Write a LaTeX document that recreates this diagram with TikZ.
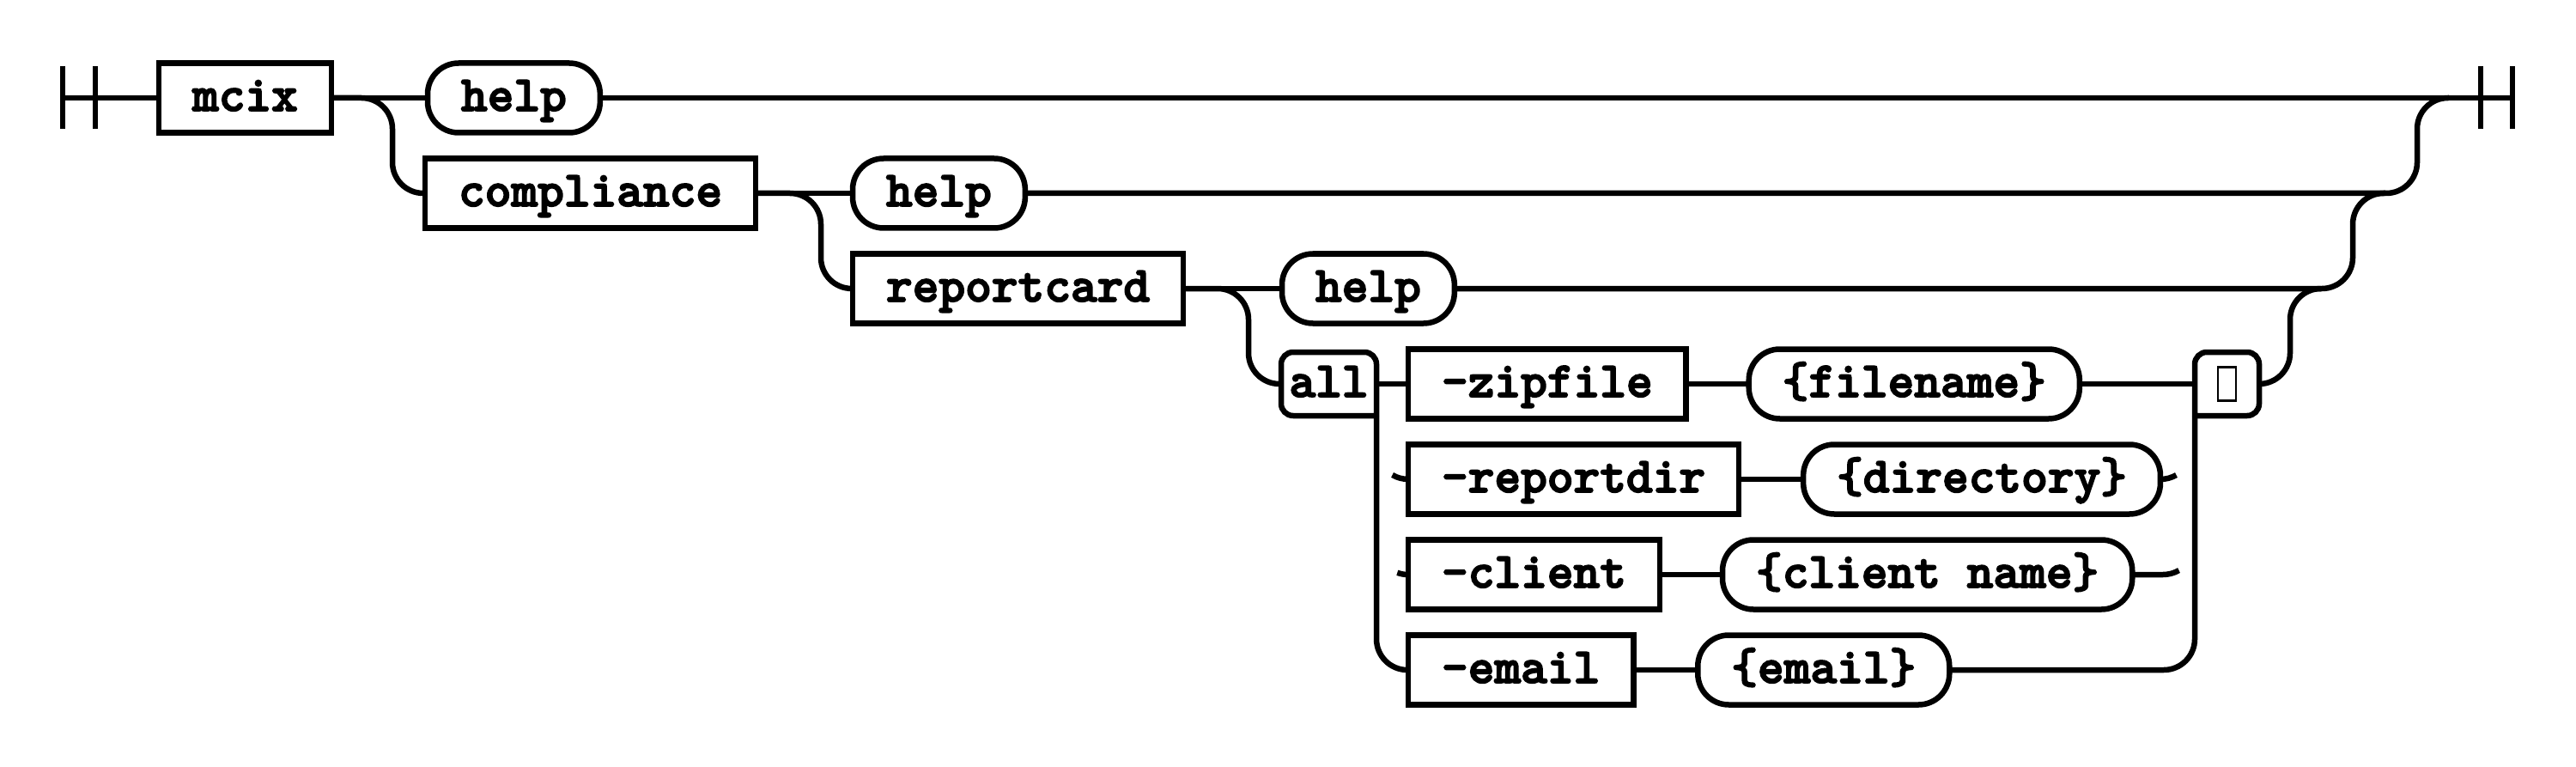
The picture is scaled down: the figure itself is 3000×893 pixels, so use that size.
\documentclass[tikz,border=0pt]{standalone}
\usepackage{fontspec}
\newfontfamily\railfont{lmmonolt10-bold.otf}[FakeBold=3]
\usetikzlibrary{positioning}
\begin{document}
\begin{tikzpicture}[x=1pt,y=-1pt,line width=6.5pt,
  every node/.style={font=\railfont\fontsize{58.5}{60}\selectfont,outer sep=0pt,inner xsep=39pt,inner ysep=0pt,minimum height=81pt,text height=45pt,text depth=15pt},
  nonterm/.style={draw,rectangle,anchor=west},
  term/.style={draw,rectangle,rounded corners=36pt,anchor=west},
  rail/.style={rounded corners=36pt}]
\useasboundingbox (0,0) rectangle (3000,893);

% ends of the track
\coordinate (start) at (73,114);
\coordinate (finish) at (2926,114);
\draw (start) ++(0,-37) -- ++(0,73);
\draw (start) ++(38,-37) -- ++(0,73);
\draw (finish) ++(0,-37) -- ++(0,73);
\draw (finish) ++(-37,-37) -- ++(0,73);

% commands
\node[nonterm] (mcix) at (185,114) {mcix};
\node[term] (help1) at (498,114) {help};
\node[nonterm] (compliance) at (495,225) {compliance};
\node[term] (help2) at (993,225) {help};
\node[nonterm] (reportcard) at (993,336) {reportcard};
\node[term] (help3) at (1493,336) {help};
\node[inner xsep=0pt,minimum width=111pt,minimum height=74pt,anchor=west] (all) at (1492,447) {all};

% options
\node[nonterm] (zipfile) at (1640,447) {-zipfile};
\node[term,right=73pt of zipfile] (filename) {\{filename\}};
\node[nonterm] (reportdir) at (1640,558) {-reportdir};
\node[term,right=75pt of reportdir] (directory) {\{directory\}};
\node[nonterm] (client) at (1640,669) {-client};
\node[term,right=73pt of client] (clientname) {\{client name\}};
\node[nonterm] (email) at (1640,780) {-email};
\node[term,right=75pt of email] (emailarg) {\{email\}};
\node[inner xsep=0pt,minimum width=75pt,minimum height=74pt,anchor=west] (tofu) at (2556,447) {};
\node[draw,line width=2.5pt,inner sep=0pt,minimum width=21pt,minimum height=39pt,text height=0pt,text depth=0pt] (glyph) at (tofu.center) {};

% group boxes
\draw[rounded corners=14pt] (all.south east) -- (all.south west) -- (all.north west) -- (all.north east) [sharp corners] -- (all.south east);
\draw[rounded corners=14pt] (tofu.south west) -- (tofu.south east) -- (tofu.north east) -- (tofu.north west) [sharp corners] -- (tofu.south west);

% main line and forks
\draw (start) -- (mcix.west);
\draw (mcix.east) -- (help1.west);
\draw (help1.east) -- (finish);
\draw[rail] (mcix.east) -| ([xshift=-38pt]compliance.west) -- (compliance.west);
\draw (compliance.east) -- (help2.west);
\draw[rail] (compliance.east) -| ([xshift=-37pt]reportcard.west) -- (reportcard.west);
\draw (reportcard.east) -- (help3.west);
\draw[rail] (reportcard.east) -| ([xshift=-38pt]all.west) -- (all.west);

% option rows
\draw (all.east) -- (zipfile.west);
\draw (zipfile.east) -- (filename.west);
\draw (filename.east) -- (tofu.west);
\draw (reportdir.east) -- (directory.west);
\draw (client.east) -- (clientname.west);
\draw (email.east) -- (emailarg.west);
\draw[rail] (all.south east) |- (email.west);
\draw[rail] (tofu.south west) |- (emailarg.east);
\draw (reportdir.west) ++(-18.5,-5) arc[start angle=120,end angle=90,radius=37];
\draw (client.west) ++(-12.7,-2.2) arc[start angle=110,end angle=90,radius=37];
\draw (directory.east) arc[start angle=90,end angle=60,radius=37];
\coordinate (cstub) at (2519,669);
\draw (clientname.east) -- (cstub) arc[start angle=90,end angle=60,radius=37];

% joins back to the main line
\coordinate (merge1) at (2815,114);
\coordinate (merge2) at (2740,225);
\coordinate (merge3) at (2667,336);
\draw[rail] (tofu.east) -| (merge3) -- ++(36,0);
\draw[rail] (help3.east) -| (merge2) -- ++(38,0);
\draw[rail] (help2.east) -| (merge1) -- ++(37,0);
\end{tikzpicture}
\end{document}
